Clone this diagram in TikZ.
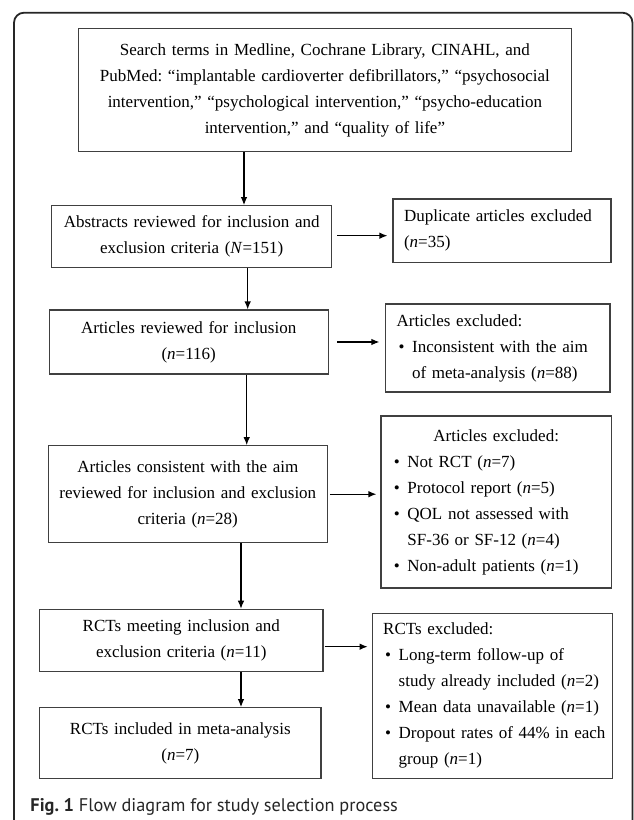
\documentclass[tikz,border=0pt]{standalone}
\usepackage{fontspec}
\setmainfont{Liberation Serif}
\newfontfamily\capfont{PT Sans}
\usetikzlibrary{arrows.meta}
\frenchspacing

\newcommand{\exitem}[1]{\par\noindent\makebox[15.5pt][l]{\hspace{2pt}\textbullet}\mbox{#1}}
\newcommand{\exline}[1]{\par\noindent\hspace*{15.5pt}\mbox{#1}}

\begin{document}
\begin{tikzpicture}[x=1pt,y=1pt,>={Latex[length=8pt,width=6.5pt]},
    box/.style={draw=black!75,line width=1.1pt,inner xsep=11pt,inner ysep=0pt,
        font=\fontsize{17}{26}\selectfont},
    flow/.style={->,line width=1.2pt}]
    \useasboundingbox (0,0) rectangle (633,820);
    % Cornice
    \draw[line width=1.8pt,black!85,rounded corners=10pt] (14,807.3) rectangle (632.5,-20);
    % Colonna principale
    \node[box,align=center,text width=471.7,minimum height=123.3] (search) at (324.9,729.7)
        {Search terms in Medline, Cochrane Library, CINAHL, and\\
         PubMed: ``implantable cardioverter defibrillators,'' ``psychosocial\\
         intervention,'' ``psychological intervention,'' ``psycho-education\\
         intervention,'' and ``quality of life''};
    \node[box,align=center,text width=258,minimum height=62] (abstr) at (191.7,583.3)
        {Abstracts reviewed for inclusion and\\ exclusion criteria (\textit{N}=151)};
    \node[box,align=center,text width=256.7,minimum height=64] (review) at (188.7,478)
        {Articles reviewed for inclusion\\ (\textit{n}=116)};
    \node[box,align=center,text width=257,minimum height=97] (consist) at (187.8,325.8)
        {Articles consistent with the aim\\ reviewed for inclusion and exclusion\\ criteria (\textit{n}=28)};
    \node[box,align=center,text width=261.4,minimum height=62] (meet) at (181.3,179.7)
        {RCTs meeting inclusion and\\ exclusion criteria (\textit{n}=11)};
    \node[box,align=center,text width=259.4,minimum height=70.6] (incl) at (180.3,77)
        {RCTs included in meta-analysis\\ (\textit{n}=7)};
    % Esclusi
    \node[box,align=left,text width=196,minimum height=63.5] (dup) at (502,589.2)
        {Duplicate articles excluded\\ (\textit{n}=35)};
    \node[box,align=left,text width=202.3,minimum height=88] (aim) at (497.8,472)
        {Articles excluded:
         \exitem{Inconsistent with the aim}
         \exline{of meta-analysis (\textit{n}=88)}};
    \node[box,align=left,text width=208.5,minimum height=172] (notrct) at (496.2,318)
        {{\centering Articles excluded:\par}
         \exitem{Not RCT (\textit{n}=7)}
         \exitem{Protocol report (\textit{n}=5)}
         \exitem{QOL not assessed with}
         \exline{SF-36 or SF-12 (\textit{n}=4)}
         \exitem{Non-adult patients (\textit{n}=1)}};
    \node[box,align=left,text width=218.2,minimum height=165] (rctex) at (492.3,124.2)
        {RCTs excluded:
         \exitem{Long-term follow-up of}
         \exline{study already included (\textit{n}=2)}
         \exitem{Mean data unavailable (\textit{n}=1)}
         \exitem{Dropout rates of 44\% in each}
         \exline{group (\textit{n}=1)}};
    % Frecce verticali
    \coordinate (a1) at (244,0);
    \coordinate (a2) at (247.7,0);
    \coordinate (a3) at (246.7,0);
    \coordinate (a4) at (241,0);
    \draw[flow] (search.south -| a1) -- (abstr.north -| a1);
    \draw[flow] (abstr.south -| a2) -- (review.north -| a2);
    \draw[flow] (review.south -| a3) -- (consist.north -| a3);
    \draw[flow] (consist.south -| a4) -- (meet.north -| a4);
    \draw[flow] (meet.south -| a4) -- (incl.north -| a4);
    % Frecce orizzontali
    \draw[flow,shorten <=5pt,shorten >=5pt] ([yshift=1pt]abstr.east) -- ([yshift=1pt]abstr.east -| dup.west);
    \draw[flow,shorten <=8.7pt,shorten >=5.7pt] (review.east) -- (review.east -| aim.west);
    \draw[flow,shorten <=2pt,shorten >=4pt] (consist.east) -- (consist.east -| notrct.west);
    \draw[flow,shorten <=1pt,shorten >=4pt] ([yshift=-6.4pt]meet.east) -- ([yshift=-6.4pt]meet.east -| rctex.west);
    % Didascalia
    \node[anchor=base west,inner sep=0pt,text=black!85,font=\capfont\fontsize{18.3}{22}\selectfont] (cap) at (30.3,8.3)
        {\textbf{Fig. 1} Flow diagram for study selection process};
\end{tikzpicture}
\end{document}
